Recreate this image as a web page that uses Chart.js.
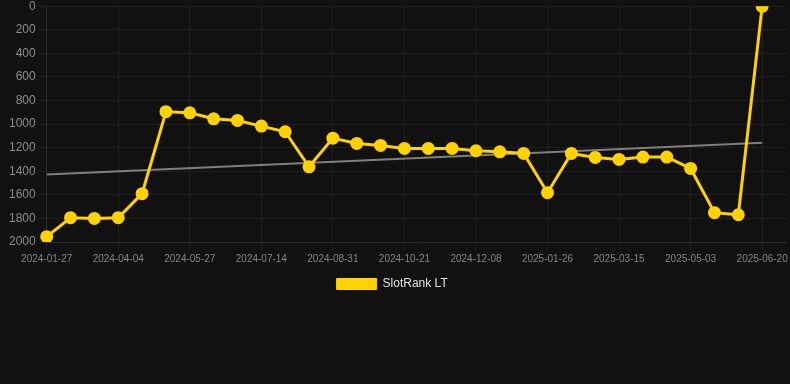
<!DOCTYPE html>
<html>
<head>
<meta charset="utf-8">
<script src="https://cdn.jsdelivr.net/npm/chart.js@4"></script>
<style>
  html, body { margin: 0; padding: 0; background: #111111; overflow: hidden; }
  #wrap { width: 795px; height: 304px; position: relative; margin-top: -4px; }
</style>
</head>
<body>
<div id="wrap"><canvas id="rankChart"></canvas></div>
<script>
const dates = [
  "2024-01-27", "2024-02-19", "2024-03-13", "2024-04-04", "2024-04-22", "2024-05-09",
  "2024-05-27", "2024-06-12", "2024-06-28", "2024-07-14", "2024-07-30", "2024-08-15",
  "2024-08-31", "2024-09-17", "2024-10-04", "2024-10-21", "2024-11-06", "2024-11-22",
  "2024-12-08", "2024-12-24", "2025-01-09", "2025-01-26", "2025-02-11", "2025-02-27",
  "2025-03-15", "2025-03-31", "2025-04-17", "2025-05-03", "2025-05-19", "2025-06-04",
  "2025-06-20", ""
];
const slotRank = [
  1955, 1794, 1800, 1794, 1590, 895, 904, 955, 969, 1017, 1065, 1362,
  1119, 1164, 1181, 1206, 1206, 1206, 1226, 1235, 1249, 1582, 1249, 1283,
  1300, 1280, 1280, 1376, 1751, 1769, 1, null
];
// trend line ends only, drawn across the gap
const trendStart = 1427;
const trendEnd = 1158;
const trend = dates.map((d, i) => i === 0 ? trendStart : (i === 30 ? trendEnd : null));

const yTicks = { min: 0, max: 2000, step: 200 };
const fontFamily = "Arial, 'Liberation Sans', sans-serif";

const ctx = document.getElementById("rankChart").getContext("2d");
new Chart(ctx, {
  type: "line",
  data: {
    labels: dates,
    datasets: [
      {
        label: "SlotRank LT",
        data: slotRank,
        borderColor: "#ffd200",
        backgroundColor: "#ffd200",
        borderWidth: 3,
        pointRadius: 5,
        pointHoverRadius: 6,
        tension: 0
      },
      {
        label: "trend",
        data: trend,
        borderColor: "rgba(140,140,140,0.9)",
        borderWidth: 2,
        pointRadius: 0,
        spanGaps: true,
        tension: 0
      }
    ]
  },
  options: {
    responsive: true,
    maintainAspectRatio: false,
    animation: false,
    layout: { padding: { left: 6, right: 0, top: 0 } },
    plugins: {
      legend: {
        position: "bottom",
        labels: {
          color: "#e0e0e0",
          boxWidth: 40,
          boxHeight: 11,
          font: { family: fontFamily, size: 12 },
          filter: item => item.text !== "trend",
          generateLabels: chart => {
            const items = Chart.defaults.plugins.legend.labels.generateLabels(chart);
            items.forEach(it => {
              if (it.text !== "trend") {
                it.text = it.text + "     ";
                it.lineWidth = 1;
              }
            });
            return items;
          }
        }
      },
      tooltip: { enabled: false }
    },
    scales: {
      x: {
        offset: false,
        ticks: {
          color: "#858585",
          font: { family: fontFamily, size: 10 },
          maxRotation: 0,
          autoSkip: true,
          maxTicksLimit: 11
        },
        grid: { color: "rgba(255,255,255,0.06)" },
        border: { color: "rgba(255,255,255,0.06)" }
      },
      y: {
        reverse: true,
        min: yTicks.min,
        max: yTicks.max,
        ticks: {
          stepSize: yTicks.step,
          color: "#8c8c8c",
          font: { family: fontFamily, size: 12 },
          callback: v => String(v)
        },
        grid: { color: "rgba(255,255,255,0.06)" },
        border: { color: "rgba(255,255,255,0.06)" }
      }
    }
  }
});
</script>
</body>
</html>
